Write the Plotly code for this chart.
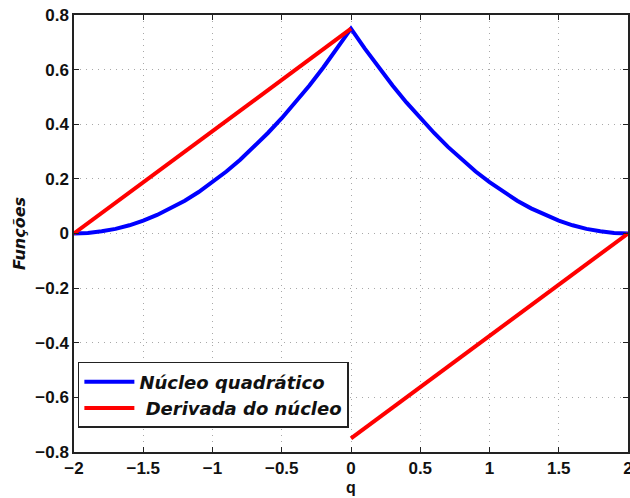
import plotly.graph_objects as go

# Núcleo quadrático
q_kernel = [-2.0, -1.9, -1.8, -1.7, -1.6, -1.5, -1.4, -1.3, -1.2, -1.1, -1.0,
            -0.9, -0.8, -0.7, -0.6, -0.5, -0.4, -0.3, -0.2, -0.1, 0.0,
            0.1, 0.2, 0.3, 0.4, 0.5, 0.6, 0.7, 0.8, 0.9, 1.0,
            1.1, 1.2, 1.3, 1.4, 1.5, 1.6, 1.7, 1.8, 1.9, 2.0]
kernel_vals = [0.0, 0.002, 0.008, 0.017, 0.030, 0.047, 0.068, 0.092, 0.120, 0.152, 0.188,
               0.227, 0.270, 0.317, 0.368, 0.422, 0.480, 0.542, 0.608, 0.677, 0.750,
               0.677, 0.608, 0.542, 0.480, 0.422, 0.368, 0.317, 0.270, 0.227, 0.188,
               0.152, 0.120, 0.092, 0.068, 0.047, 0.030, 0.017, 0.008, 0.002, 0.0]

# Derivada do núcleo
q_deriv = [-2.0, 0.0, None, 0.0, 2.0]
deriv_vals = [0.0, 0.75, None, -0.75, 0.0]

x_ticks = [-2, -1.5, -1, -0.5, 0, 0.5, 1, 1.5, 2]
x_tick_labels = ["\u22122", "\u22121.5", "\u22121", "\u22120.5", "0", "0.5", "1", "1.5", "2"]
y_ticks = [-0.8, -0.6, -0.4, -0.2, 0, 0.2, 0.4, 0.6, 0.8]
y_tick_labels = ["\u22120.8", "\u22120.6", "\u22120.4", "\u22120.2", "0", "0.2", "0.4", "0.6", "0.8"]

FONT = "Liberation Sans, Arial, sans-serif"
FONT_LEG = "DejaVu Sans, Verdana, sans-serif"

def bold(labels):
    return ["<b>%s</b>" % t for t in labels]

fig = go.Figure()
fig.add_trace(go.Scatter(x=q_kernel, y=kernel_vals, mode="lines",
                         name="<b><i>Núcleo quadrático</i></b>",
                         line=dict(color="#0000ff", width=4)))
fig.add_trace(go.Scatter(x=q_deriv, y=deriv_vals, mode="lines",
                         name="<b><i> Derivada do núcleo</i></b>", connectgaps=False,
                         line=dict(color="#ff0000", width=4)))

axis_common = dict(showline=True, linecolor="#222222", linewidth=1.5, mirror="ticks",
                   ticks="inside", ticklen=5, tickcolor="#222222",
                   showgrid=True, gridcolor="#a8a8a8", griddash="1px,5px", gridwidth=1,
                   zeroline=False, automargin=False, ticklabeloverflow="allow",
                   tickfont=dict(family=FONT, size=17, color="#111111"))

fig.update_layout(
    width=630, height=498,
    margin=dict(l=74, r=2, t=15, b=46),
    paper_bgcolor="white", plot_bgcolor="white",
    xaxis=dict(range=[-2, 2], tickvals=x_ticks, ticktext=bold(x_tick_labels),
               title=dict(text="<b>q</b>", font=dict(family=FONT, size=16, color="#111111"),
                          standoff=5),
               **axis_common),
    yaxis=dict(range=[-0.8, 0.8], tickvals=y_ticks, ticktext=bold(y_tick_labels),
               title=dict(text="<b><i>Funções</i></b>", font=dict(family=FONT_LEG, size=16, color="#111111"),
                          standoff=6),
               **axis_common),
    legend=dict(x=0.007, y=0.055, xanchor="left", yanchor="bottom",
                bgcolor="white", bordercolor="#222222", borderwidth=1.5,
                font=dict(family=FONT_LEG, size=18, color="#111111"),
                tracegroupgap=0, itemwidth=50),
    showlegend=True,
)

fig.write_html("out.html")
